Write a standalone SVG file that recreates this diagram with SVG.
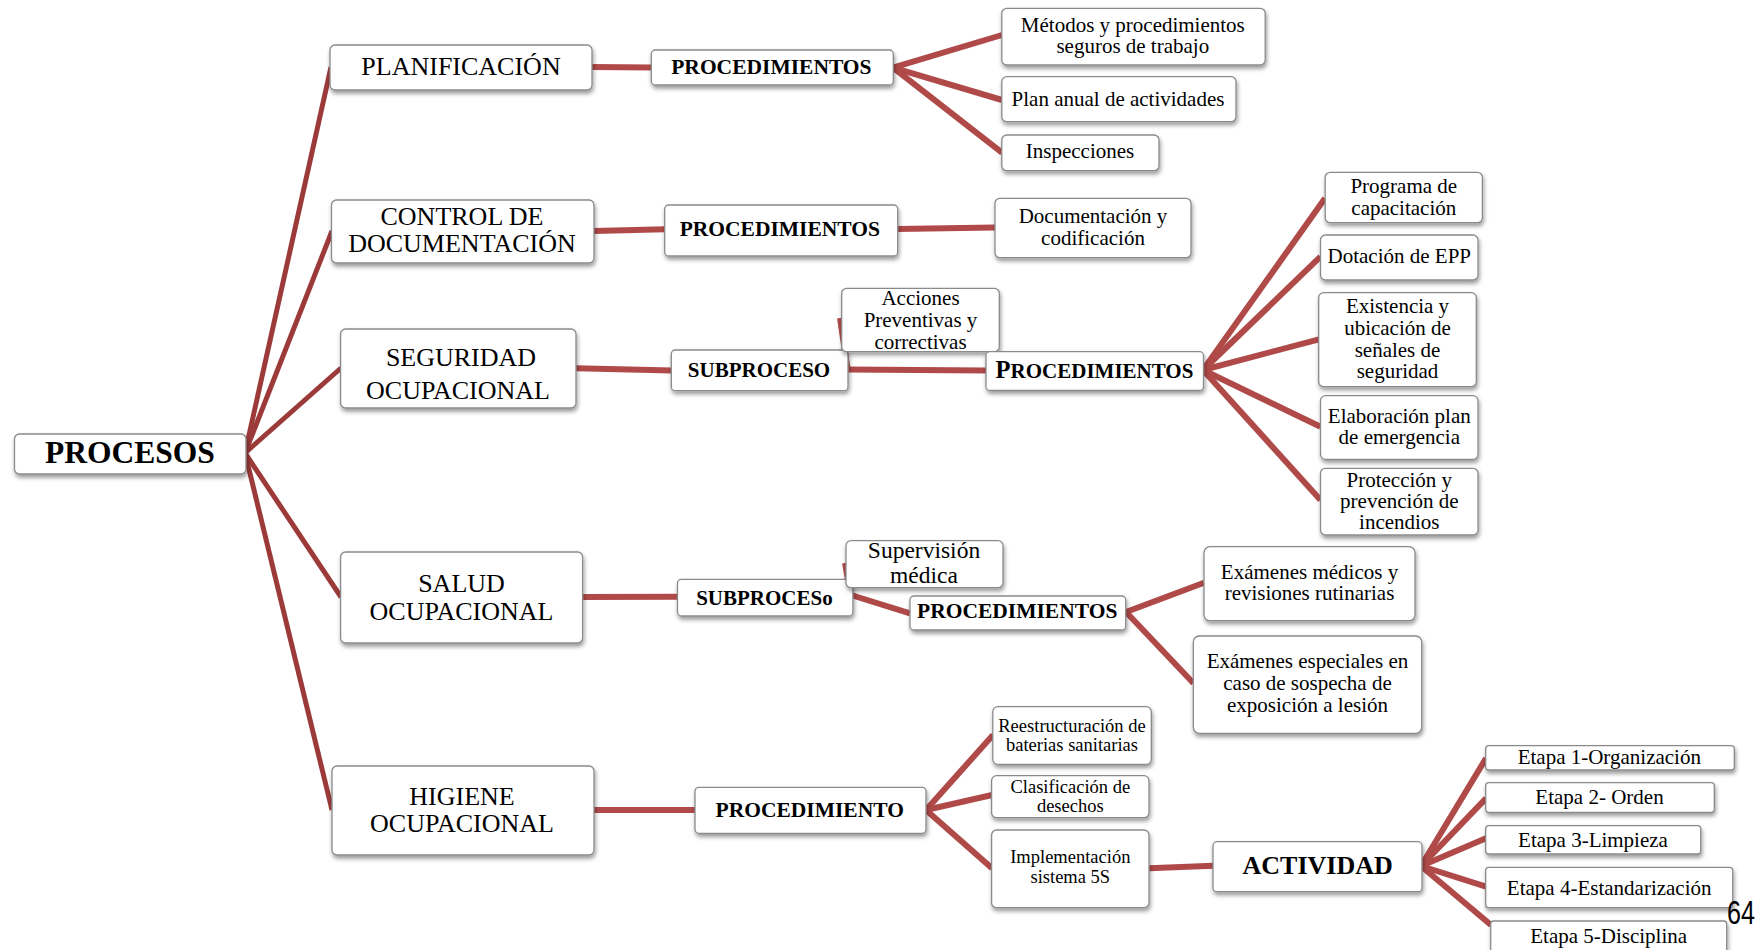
<svg xmlns="http://www.w3.org/2000/svg" width="1764" height="950" viewBox="0 0 1764 950">
  <defs>
    <filter id="sh" x="-10%" y="-20%" width="125%" height="160%">
      <feDropShadow dx="1" dy="3" stdDeviation="2" flood-color="#000" flood-opacity="0.4"/>
    </filter>
    <style>
      .box { fill:#ffffff; stroke:#8a8a8a; stroke-width:1.3; filter:url(#sh); }
      .t { font-family:"Liberation Serif","Times New Roman",serif; fill:#000; text-anchor:middle; }
      .main { font-size:26px; }
      .leaf { font-size:21px; }
      .small { font-size:18.5px; }
      .b { font-weight:bold; }
      .root { stroke:#9c3a3a; stroke-width:5; fill:none; }
      .link { stroke:#b04a49; stroke-width:6; fill:none; }
    </style>
  </defs>
  <rect width="1764" height="950" fill="#ffffff"/>

  <!-- connectors -->
  <g id="connectors">
    <!-- root fan -->
    <line class="root" x1="245" y1="453" x2="331" y2="67"/>
    <line class="root" x1="245" y1="453" x2="332" y2="231"/>
    <line class="root" x1="245" y1="453" x2="341" y2="368"/>
    <line class="root" x1="245" y1="453" x2="341" y2="597"/>
    <line class="root" x1="245" y1="453" x2="332" y2="810"/>
    <!-- planificación -->
    <line class="link" x1="592" y1="67" x2="652" y2="67.5"/>
    <line class="link" x1="893" y1="67.7" x2="1002" y2="35"/>
    <line class="link" x1="893" y1="67.7" x2="1002" y2="100"/>
    <line class="link" x1="893" y1="67.7" x2="1002" y2="152.7"/>
    <!-- control de documentación -->
    <line class="link" x1="594" y1="231" x2="665" y2="229.3"/>
    <line class="link" x1="897" y1="229" x2="995" y2="227.5"/>
    <!-- seguridad ocupacional -->
    <line class="link" x1="576" y1="368.3" x2="672" y2="370.5"/>
    <line class="link" x1="847.5" y1="369" x2="840" y2="318"/>
    <line class="link" x1="847" y1="369.5" x2="986" y2="370.5"/>
    <line class="link" x1="1203" y1="370" x2="1325" y2="198.3"/>
    <line class="link" x1="1203" y1="370" x2="1320.5" y2="256.7"/>
    <line class="link" x1="1203" y1="370" x2="1319" y2="339.3"/>
    <line class="link" x1="1203" y1="370" x2="1320.5" y2="426.7"/>
    <line class="link" x1="1203" y1="370" x2="1320.5" y2="500"/>
    <!-- salud ocupacional -->
    <line class="link" x1="582.5" y1="597" x2="678" y2="596.7"/>
    <line class="link" x1="851" y1="597" x2="845" y2="563"/>
    <line class="link" x1="851" y1="595" x2="910" y2="613.3"/>
    <line class="link" x1="1126" y1="612" x2="1204" y2="582.7"/>
    <line class="link" x1="1126" y1="612" x2="1193.5" y2="683.3"/>
    <!-- higiene ocupacional -->
    <line class="link" x1="594" y1="810" x2="695" y2="810"/>
    <line class="link" x1="926" y1="810" x2="993" y2="735"/>
    <line class="link" x1="926" y1="810" x2="992" y2="795"/>
    <line class="link" x1="926" y1="810" x2="992" y2="868.3"/>
    <line class="link" x1="1149" y1="868.3" x2="1213" y2="865.7"/>
    <line class="link" x1="1421" y1="866" x2="1486" y2="758.3"/>
    <line class="link" x1="1421" y1="866" x2="1486" y2="798.3"/>
    <line class="link" x1="1421" y1="866" x2="1486" y2="838.3"/>
    <line class="link" x1="1421" y1="866" x2="1486" y2="886.7"/>
    <line class="link" x1="1421" y1="866" x2="1491" y2="925"/>
  </g>

  <!-- root -->
  <g id="procesos">
    <rect class="box" x="14.5" y="434" width="231.5" height="40" rx="5"/>
    <text class="t b" x="130" y="463.3" font-size="31.5">PROCESOS</text>
  </g>

  <!-- first level -->
  <g id="planificacion">
    <rect class="box" x="330" y="45" width="262" height="45" rx="5"/>
    <text class="t main" x="461" y="75">PLANIFICACIÓN</text>
  </g>
  <g id="control-documentacion">
    <rect class="box" x="331.5" y="200" width="262.5" height="63" rx="5"/>
    <text class="t main" x="462" y="225">CONTROL DE</text>
    <text class="t main" x="462" y="252.3">DOCUMENTACIÓN</text>
  </g>
  <g id="seguridad-ocupacional">
    <rect class="box" x="340.6" y="329" width="235.4" height="79" rx="5"/>
    <text class="t main" x="461" y="365.7">SEGURIDAD</text>
    <text class="t main" x="458" y="399">OCUPACIONAL</text>
  </g>
  <g id="salud-ocupacional">
    <rect class="box" x="340.6" y="552" width="242" height="91" rx="5"/>
    <text class="t main" x="461.5" y="592">SALUD</text>
    <text class="t main" x="461.5" y="620">OCUPACIONAL</text>
  </g>
  <g id="higiene-ocupacional">
    <rect class="box" x="332" y="766" width="262" height="89" rx="5"/>
    <text class="t main" x="462" y="805">HIGIENE</text>
    <text class="t main" x="462" y="831.7">OCUPACIONAL</text>
  </g>

  <!-- second level -->
  <g id="proc-planificacion">
    <rect class="box" x="651.3" y="50" width="242" height="35" rx="4"/>
    <text class="t b" x="771.4" y="74" font-size="21.5">PROCEDIMIENTOS</text>
  </g>
  <g id="proc-documentacion">
    <rect class="box" x="664.7" y="205" width="233" height="51" rx="4"/>
    <text class="t b" x="779.8" y="236" font-size="21.5">PROCEDIMIENTOS</text>
  </g>
  <g id="subproceso-seguridad">
    <rect class="box" x="671.3" y="350" width="176.7" height="40.7" rx="4"/>
    <text class="t b" x="759" y="377.3" font-size="21">SUBPROCESO</text>
  </g>
  <g id="acciones">
    <rect class="box" x="841.7" y="288.3" width="157.6" height="63.4" rx="5"/>
    <text class="t leaf" x="920.5" y="305">Acciones</text>
    <text class="t leaf" x="920.5" y="327.3">Preventivas y</text>
    <text class="t leaf" x="920.5" y="349">correctivas</text>
  </g>
  <g id="proc-seguridad">
    <rect class="box" x="986" y="351.7" width="217.5" height="38.7" rx="4"/>
    <text class="t b" x="1094.5" y="378.3" font-size="21"><tspan font-size="24.5">P</tspan>ROCEDIMIENTOS</text>
  </g>
  <g id="subproceso-salud">
    <rect class="box" x="677.5" y="579.3" width="175.4" height="36.7" rx="4"/>
    <text class="t b" x="764.4" y="605" font-size="21">SUBPROCESo</text>
  </g>
  <g id="supervision">
    <rect class="box" x="846" y="540.7" width="157" height="47" rx="5"/>
    <text class="t" x="924" y="558.3" font-size="23.5">Supervisión</text>
    <text class="t" x="924" y="583.3" font-size="23.5">médica</text>
  </g>
  <g id="proc-salud">
    <rect class="box" x="910" y="596" width="215.7" height="34" rx="4"/>
    <text class="t b" x="1017.2" y="618.3" font-size="21.5">PROCEDIMIENTOS</text>
  </g>
  <g id="proc-higiene">
    <rect class="box" x="695" y="787.3" width="231" height="46" rx="4"/>
    <text class="t b" x="809.7" y="816.7" font-size="21.5">PROCEDIMIENTO</text>
  </g>

  <!-- planificación leaves -->
  <g id="metodos">
    <rect class="box" x="1001.8" y="8.3" width="263.4" height="56.7" rx="5"/>
    <text class="t leaf" x="1132.8" y="31.7">Métodos y procedimientos</text>
    <text class="t leaf" x="1132.8" y="53.3">seguros de trabajo</text>
  </g>
  <g id="plan-anual">
    <rect class="box" x="1001.8" y="76.7" width="234.2" height="45" rx="5"/>
    <text class="t leaf" x="1118" y="106">Plan anual de actividades</text>
  </g>
  <g id="inspecciones">
    <rect class="box" x="1001.8" y="135" width="157.2" height="35.7" rx="5"/>
    <text class="t leaf" x="1080" y="158.3">Inspecciones</text>
  </g>

  <!-- documentación leaf -->
  <g id="documentacion">
    <rect class="box" x="995" y="198.3" width="196" height="59.4" rx="5"/>
    <text class="t leaf" x="1093" y="223.3">Documentación y</text>
    <text class="t leaf" x="1093" y="245">codificación</text>
  </g>

  <!-- seguridad leaves -->
  <g id="programa">
    <rect class="box" x="1325.2" y="172.3" width="157.2" height="50.4" rx="5"/>
    <text class="t leaf" x="1403.8" y="193.3">Programa de</text>
    <text class="t leaf" x="1403.8" y="215">capacitación</text>
  </g>
  <g id="dotacion">
    <rect class="box" x="1320.5" y="235" width="157.5" height="45" rx="5"/>
    <text class="t leaf" x="1399.3" y="263.3">Dotación de EPP</text>
  </g>
  <g id="existencia">
    <rect class="box" x="1318.7" y="292.7" width="157.6" height="94" rx="5"/>
    <text class="t leaf" x="1397.5" y="313.3">Existencia y</text>
    <text class="t leaf" x="1397.5" y="335">ubicación de</text>
    <text class="t leaf" x="1397.5" y="356.7">señales de</text>
    <text class="t leaf" x="1397.5" y="378.3">seguridad</text>
  </g>
  <g id="elaboracion">
    <rect class="box" x="1320.5" y="395.7" width="157.5" height="63.6" rx="5"/>
    <text class="t leaf" x="1399.3" y="422.7">Elaboración plan</text>
    <text class="t leaf" x="1399.3" y="444">de emergencia</text>
  </g>
  <g id="proteccion">
    <rect class="box" x="1320.5" y="468.3" width="157.5" height="66.7" rx="5"/>
    <text class="t leaf" x="1399.3" y="486.7">Protección y</text>
    <text class="t leaf" x="1399.3" y="508.3">prevención de</text>
    <text class="t leaf" x="1399.3" y="529.3">incendios</text>
  </g>

  <!-- salud leaves -->
  <g id="examenes-medicos">
    <rect class="box" x="1204" y="546.7" width="211" height="74" rx="6"/>
    <text class="t leaf" x="1309.5" y="579">Exámenes médicos y</text>
    <text class="t leaf" x="1309.5" y="600.3">revisiones rutinarias</text>
  </g>
  <g id="examenes-especiales">
    <rect class="box" x="1193.3" y="636" width="228.4" height="97.3" rx="6"/>
    <text class="t leaf" x="1307.5" y="668.3">Exámenes especiales en</text>
    <text class="t leaf" x="1307.5" y="690">caso de sospecha de</text>
    <text class="t leaf" x="1307.5" y="711.7">exposición a lesión</text>
  </g>

  <!-- higiene leaves -->
  <g id="reestructuracion">
    <rect class="box" x="992.8" y="706.7" width="158.5" height="57.6" rx="5"/>
    <text class="t small" x="1072" y="731.7">Reestructuración de</text>
    <text class="t small" x="1072" y="751">baterias sanitarias</text>
  </g>
  <g id="clasificacion">
    <rect class="box" x="991.6" y="775.7" width="157.4" height="42" rx="5"/>
    <text class="t small" x="1070.3" y="793.3">Clasificación de</text>
    <text class="t small" x="1070.3" y="811.7">desechos</text>
  </g>
  <g id="implementacion">
    <rect class="box" x="991.6" y="830" width="157.4" height="77.7" rx="5"/>
    <text class="t small" x="1070.3" y="863.3">Implementación</text>
    <text class="t small" x="1070.3" y="883.3">sistema 5S</text>
  </g>
  <g id="actividad">
    <rect class="box" x="1213" y="841.7" width="209" height="50" rx="4"/>
    <text class="t b" x="1317.7" y="874.3" font-size="26">ACTIVIDAD</text>
  </g>
  <g id="etapa-1">
    <rect class="box" x="1485.7" y="745.7" width="248.6" height="24.3" rx="3"/>
    <text class="t leaf" x="1609.3" y="764.3">Etapa 1-Organización</text>
  </g>
  <g id="etapa-2">
    <rect class="box" x="1485.7" y="782.7" width="228.6" height="29.6" rx="3"/>
    <text class="t leaf" x="1599.5" y="804">Etapa 2- Orden</text>
  </g>
  <g id="etapa-3">
    <rect class="box" x="1485.7" y="825.7" width="215" height="28.3" rx="3"/>
    <text class="t leaf" x="1593" y="846.7">Etapa 3-Limpieza</text>
  </g>
  <g id="etapa-4">
    <rect class="box" x="1485.7" y="867.3" width="247" height="40.4" rx="3"/>
    <text class="t leaf" x="1609.2" y="895">Etapa 4-Estandarización</text>
  </g>
  <g id="etapa-5">
    <rect class="box" x="1490.7" y="921" width="236" height="40" rx="3"/>
    <text class="t leaf" x="1608.7" y="943.3">Etapa 5-Disciplina</text>
  </g>

  <!-- page number -->
  <text x="1727" y="924" font-family="Liberation Sans, Arial, sans-serif" font-size="34" textLength="28" lengthAdjust="spacingAndGlyphs" fill="#000">64</text>
</svg>
